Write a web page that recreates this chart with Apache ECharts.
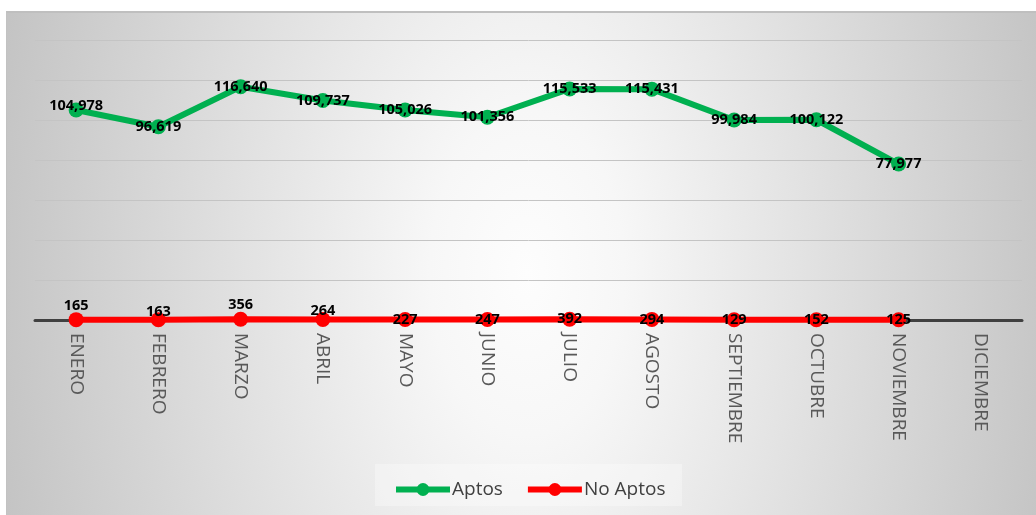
<!DOCTYPE html>
<html>
<head>
<meta charset="utf-8">
<style>
html,body{margin:0;padding:0;background:#fff;}
#wrap{position:relative;width:1036px;height:515px;overflow:hidden;}
#bg{position:absolute;left:6px;top:11px;width:1040px;height:520px;box-sizing:border-box;
  border-left:1.5px solid #c2c2c2;border-top:2px solid #bfbfbf;
  background:radial-gradient(ellipse 540px 900px at 520px 260px, #fdfdfd 0%, #f7f7f7 18%, #e2e2e2 52%, #c4c4c4 100%);}
#c{position:absolute;left:0;top:0;width:1036px;height:515px;}
</style>
<script src="https://cdn.jsdelivr.net/npm/echarts@6/dist/echarts.min.js"></script>
</head>
<body>
<div id="wrap"><div id="bg"></div><div id="c"></div></div>
<script>
const categories = ['ENERO','FEBRERO','MARZO','ABRIL','MAYO','JUNIO','JULIO','AGOSTO','SEPTIEMBRE','OCTUBRE','NOVIEMBRE','DICIEMBRE'];
const aptos = [104978, 96619, 116640, 109737, 105026, 101356, 115533, 115431, 99984, 100122, 77977, null];
const noAptos = [165, 163, 356, 264, 227, 247, 392, 294, 129, 152, 125, null];
// label vertical nudges (px) relative to the point centre
const aptosLabelDy = [-4, 0, 0, 0, 0, 0, 0, 0, 0, 0, 0, 0];
const noAptosLabelDy = [-14, -8, -14, -9, 0, 0, 0, 0, 0, 0, 0, 0];

const fmt = v => v.toLocaleString('en-US');
const lblFont = {fontFamily:'Open Sans, Liberation Sans, sans-serif', fontWeight:'bold', fontSize:14.5, color:'#000'};

const chart = echarts.init(document.getElementById('c'), null, {renderer:'canvas'});
chart.setOption({
  backgroundColor:'transparent',
  animation:false,
  graphic:[{
    type:'rect', z:-5, silent:true,
    shape:{x:375, y:464, width:307, height:42},
    style:{fill:'rgba(255,255,255,0.3)'}
  }],
  grid:{left:35, right:14, top:40, bottom:195, containLabel:false},
  legend:{
    bottom:11, left:388,
    itemWidth:54, itemHeight:16, itemGap:22,
    lineStyle:{width:6},
    textStyle:{fontFamily:'Open Sans, Liberation Sans, sans-serif', fontSize:19, color:'#404040', padding:[0,0,0,-3]},
    data:['Aptos','No Aptos']
  },
  xAxis:{
    type:'category', data:categories, boundaryGap:true,
    axisLine:{lineStyle:{color:'#404040', width:3}},
    axisTick:{show:false},
    axisLabel:{rotate:-90, interval:0, margin:13, fontFamily:'Open Sans, Liberation Sans, sans-serif', fontSize:19, color:'#595959', align:'left', verticalAlign:'middle'}
  },
  yAxis:{
    type:'value', min:0, max:140000, interval:20000,
    axisLabel:{show:false}, axisLine:{show:false}, axisTick:{show:false},
    splitLine:{lineStyle:{color:'#c4c4c4', width:1}}
  },
  series:[{
    name:'Aptos', type:'line',
    data:aptos.map((v,i)=>({value:v, label:{position:'inside', offset:[0, aptosLabelDy[i]]}})),
    symbol:'circle', symbolSize:15,
    lineStyle:{color:'#00b050', width:6},
    itemStyle:{color:'#00b050'},
    label:{show:true, formatter:p=>fmt(p.value), ...lblFont},
    z:3
  },{
    name:'No Aptos', type:'line',
    data:noAptos.map((v,i)=>({value:v, label:{position:'inside', offset:[0, noAptosLabelDy[i]]}})),
    symbol:'circle', symbolSize:15,
    lineStyle:{color:'#ff0000', width:6},
    itemStyle:{color:'#ff0000'},
    label:{show:true, formatter:p=>fmt(p.value), ...lblFont},
    z:4
  }]
});
</script>
</body>
</html>
